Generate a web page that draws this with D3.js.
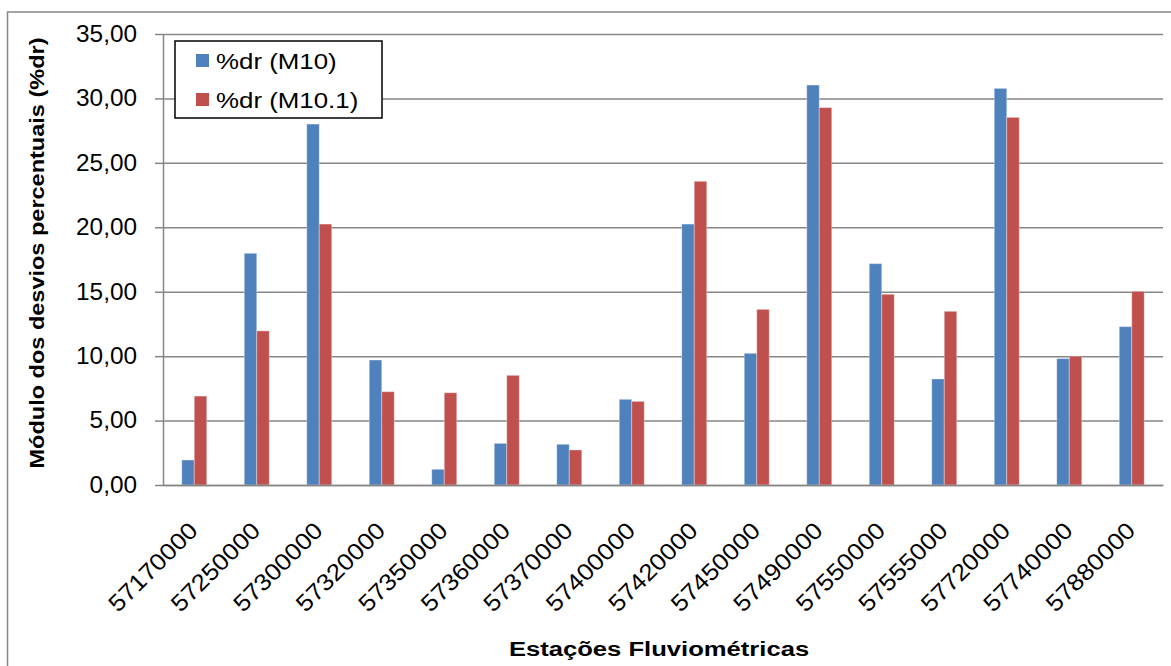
<!DOCTYPE html>
<html>
<head>
<meta charset="utf-8">
<script src="https://cdn.jsdelivr.net/npm/d3@7"></script>
<style>
  html, body { margin: 0; padding: 0; background: #fff; }
  svg { display: block; font-family: "Liberation Sans", Arial, sans-serif; }
</style>
</head>
<body>
<svg id="chart" width="1171" height="666"></svg>
<script>
// Stations (x categories)
const stations = ["57170000","57250000","57300000","57320000","57350000","57360000","57370000","57400000",
                  "57420000","57450000","57490000","57550000","57555000","57720000","57740000","57880000"];
// Absolute percent deviations per model
const devM10  = [1.94, 17.98, 28.01, 9.70, 1.22, 3.23, 3.16, 6.65, 20.25, 10.22, 31.04, 17.18, 8.23, 30.78, 9.81, 12.29];
const devM101 = [6.90, 11.96, 20.25, 7.24, 7.16, 8.51, 2.72, 6.49, 23.57, 13.63, 29.29, 14.80, 13.48, 28.53, 10.00, 15.03];
const seriesNames = ["%dr (M10)", "%dr (M10.1)"];
const seriesColors = ["#4F81BD", "#C0504D"];
const yTicks = [0, 5, 10, 15, 20, 25, 30, 35];
const yTitle = "Módulo dos desvios percentuais (%dr)";
const xTitle = "Estações Fluviométricas";

const svg = d3.select("#chart");
const plot = { left: 163, right: 1163, top: 34, bottom: 485 };
const gridColor = "#868686";

const ptBR = d3.formatLocale({ decimal: ",", thousands: ".", grouping: [3], currency: ["R$", ""] });
const fmt = ptBR.format(".2f");

// Outer chart frame
svg.append("rect")
  .attr("x", 7.5).attr("y", 12)
  .attr("width", 1300).attr("height", 800)
  .attr("fill", "#fff").attr("stroke", gridColor).attr("stroke-width", 1.5);

const x0 = d3.scaleBand().domain(stations).range([plot.left, plot.right])
  .paddingInner(0.6).paddingOuter(0.3);
const x1 = d3.scaleBand().domain([0, 1]).range([0, x0.bandwidth()]);
const y = d3.scaleLinear().domain([0, 35]).range([plot.bottom, plot.top]);

// Horizontal gridlines
svg.append("g")
  .attr("transform", `translate(${plot.left},0)`)
  .call(d3.axisLeft(y).tickValues(yTicks).tickSize(-(plot.right - plot.left)).tickFormat(""))
  .call(g => g.select(".domain").remove())
  .call(g => g.selectAll("line").attr("stroke", gridColor).attr("stroke-width", 1.5));

// Bars
const rows = stations.map((s, i) => ({ s, vals: [devM10[i], devM101[i]] }));
const groups = svg.append("g").selectAll("g").data(rows).join("g")
  .attr("transform", d => `translate(${x0(d.s)},0)`);
groups.selectAll("rect").data(d => d.vals.map((v, k) => ({ v, k }))).join("rect")
  .attr("x", d => x1(d.k))
  .attr("y", d => y(d.v))
  .attr("width", x1.bandwidth())
  .attr("height", d => y(0) - y(d.v))
  .attr("fill", d => seriesColors[d.k])
  .attr("stroke", "rgba(255,255,255,0.35)")
  .attr("stroke-width", 1);

// Y axis
svg.append("g")
  .attr("transform", `translate(${plot.left},0)`)
  .call(d3.axisLeft(y).tickValues(yTicks).tickSize(8).tickSizeOuter(0).tickPadding(16.5).tickFormat(fmt))
  .call(g => g.select(".domain").attr("stroke", gridColor).attr("stroke-width", 1.5))
  .call(g => g.selectAll(".tick line").attr("stroke", gridColor).attr("stroke-width", 1.5))
  .call(g => g.selectAll(".tick text")
    .attr("font-size", 23).attr("font-family", "Liberation Sans, Arial, sans-serif")
    .attr("fill", "#000")
    .attr("transform", "scale(1.06,1)"));

// X axis
svg.append("g")
  .attr("transform", `translate(0,${plot.bottom})`)
  .call(d3.axisBottom(x0).tickSize(0).tickSizeOuter(0))
  .call(g => g.select(".domain").attr("stroke", gridColor).attr("stroke-width", 1.5))
  .call(g => g.selectAll(".tick text")
    .attr("font-size", 23.5).attr("font-family", "Liberation Sans, Arial, sans-serif")
    .attr("fill", "#000")
    .attr("text-anchor", "end")
    .attr("x", 0).attr("y", 0).attr("dy", 0)
    .attr("transform", "translate(5,47) rotate(-45) scale(1.1,1)"));

// Axis titles
svg.append("text")
  .attr("transform", "translate(44,253) rotate(-90) scale(1.12,1)")
  .attr("text-anchor", "middle")
  .attr("font-size", 21).attr("font-weight", "bold").attr("fill", "#000")
  .text(yTitle);

svg.append("text")
  .attr("transform", "translate(659,656) scale(1.22,1)")
  .attr("text-anchor", "middle")
  .attr("font-size", 21).attr("font-weight", "bold").attr("fill", "#000")
  .text(xTitle);

// Legend
const legend = svg.append("g").attr("transform", "translate(175,41)");
legend.append("rect")
  .attr("width", 207).attr("height", 77)
  .attr("fill", "#fff").attr("stroke", "#000").attr("stroke-width", 1.5);
const items = legend.selectAll("g.item").data(seriesNames).join("g")
  .attr("class", "item")
  .attr("transform", (d, i) => `translate(21,${13 + i * 39})`);
items.append("rect").attr("width", 13).attr("height", 13)
  .attr("fill", (d, i) => seriesColors[i]);
items.append("text")
  .attr("transform", "translate(20,14.5) scale(1.15,1)")
  .attr("font-size", 22.5).attr("fill", "#000")
  .text(d => d);
</script>
</body>
</html>
